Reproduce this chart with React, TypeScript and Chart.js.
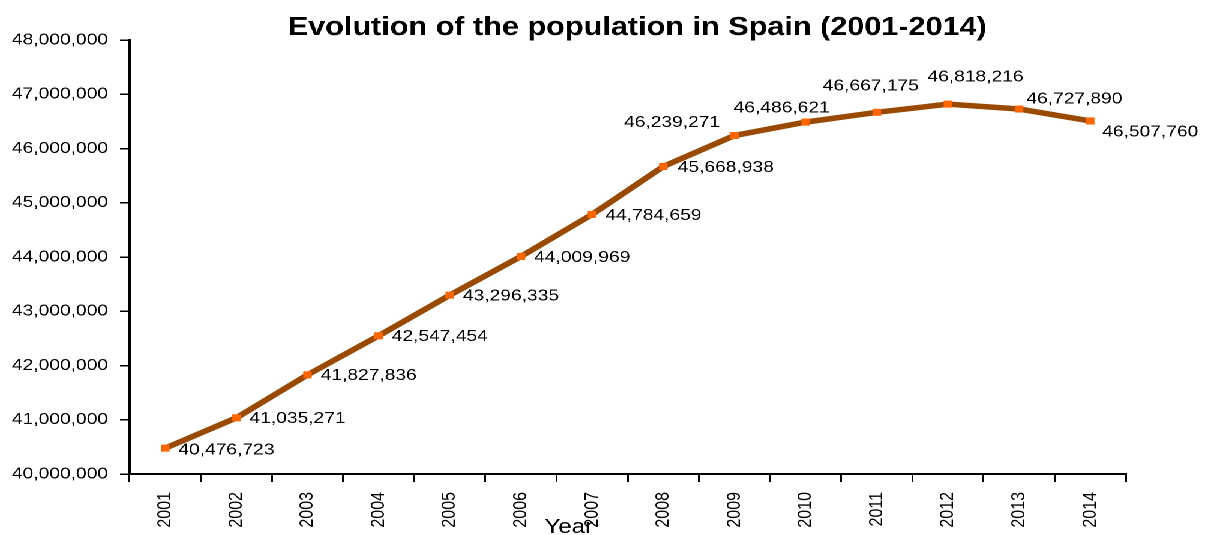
import React, { useEffect, useRef } from "react";
import { Chart, registerables } from "chart.js";

Chart.register(...registerables);

const categories = ["2001", "2002", "2003", "2004", "2005", "2006", "2007", "2008", "2009", "2010", "2011", "2012", "2013", "2014"];
const population = [40476723, 41035271, 41827836, 42547454, 43296335, 44009969, 44784659, 45668938, 46239271, 46486621, 46667175, 46818216, 46727890, 46507760];
const yMin = 40000000;
const yMax = 48000000;
const yStep = 1000000;
const chartTitle = "Evolution of the population in Spain (2001-2014)";
const xTitle = "Year";

// label placement per point: [align, dx, dy] (logical px)
const labelPlacement: [CanvasTextAlign, number, number][] = [
  ["left", 11, 2],
  ["left", 11, 1],
  ["left", 11, 1],
  ["left", 11, 1],
  ["left", 11, 1],
  ["left", 11, 1],
  ["left", 11, 1],
  ["left", 12, 1],
  ["right", -12, -13],
  ["center", -20, -14],
  ["center", -5, -26],
  ["center", 23, -27],
  ["left", 6, -10],
  ["left", 10, 11],
];

const FONT = "'Liberation Sans', Arial, sans-serif";
const LOGICAL_W = 1004;
const H = 535;
const SCALE_X = 1205 / LOGICAL_W;

const fmt = (v: number) => v.toLocaleString("en-US");

const textPlugin = {
  id: "textPlugin",
  afterDatasetsDraw(chart: any) {
    const ctx = chart.ctx as CanvasRenderingContext2D;
    const meta = chart.getDatasetMeta(0);
    ctx.save();
    ctx.fillStyle = "#000";
    ctx.font = `16px ${FONT}`;
    ctx.textBaseline = "middle";
    meta.data.forEach((pt: any, i: number) => {
      const [align, dx, dy] = labelPlacement[i];
      ctx.textAlign = align;
      ctx.fillText(fmt(population[i]), pt.x + dx, pt.y + dy);
    });
    const ca = chart.chartArea;
    const cx = (ca.left + ca.right) / 2;
    ctx.textAlign = "center";
    ctx.textBaseline = "alphabetic";
    ctx.font = `bold 25.5px ${FONT}`;
    ctx.fillText(chartTitle, cx + 8, 35);
    ctx.font = `20px ${FONT}`;
    ctx.fillText(xTitle, cx - 49, 533);
    ctx.restore();
  },
};

export default function App() {
  const ref = useRef<HTMLCanvasElement>(null);
  useEffect(() => {
    if (!ref.current) return;
    const chart = new Chart(ref.current, {
      type: "line",
      data: {
        labels: categories,
        datasets: [
          {
            data: population,
            borderColor: "#9a4a00",
            borderWidth: 5.5,
            pointStyle: "rect",
            pointRadius: 5,
            pointBackgroundColor: "#ff6600",
            pointBorderColor: "#ff6600",
            pointBorderWidth: 0,
            tension: 0,
            clip: false as any,
          },
        ],
      },
      options: {
        animation: false,
        responsive: false,
        devicePixelRatio: 2,
        layout: { padding: { top: 40, right: 66, bottom: 0, left: 0 } },
        plugins: {
          legend: { display: false },
          title: { display: false },
          tooltip: { enabled: false },
        },
        scales: {
          x: {
            type: "category",
            offset: true,
            afterFit: (s: any) => {
              s.height = 61;
            },
            grid: {
              display: true,
              offset: true,
              drawOnChartArea: false,
              drawTicks: true,
              tickLength: 8,
              color: "#000",
              lineWidth: 1.5,
            },
            border: { display: true, color: "#000", width: 2 },
            ticks: {
              color: "#000",
              font: { family: FONT, size: 16 },
              minRotation: 90,
              maxRotation: 90,
              padding: 10,
              autoSkip: false,
            },
          },
          y: {
            min: yMin,
            max: yMax,
            afterFit: (s: any) => {
              s.width = 108;
            },
            grid: {
              display: true,
              drawOnChartArea: false,
              drawTicks: true,
              tickLength: 8,
              color: "#000",
              lineWidth: 1.5,
            },
            border: { display: true, color: "#000", width: 2.5 },
            ticks: {
              stepSize: yStep,
              color: "#000",
              font: { family: FONT, size: 16 },
              padding: 10,
              callback: (v: any) => fmt(Number(v)),
            },
          },
        },
      },
      plugins: [textPlugin],
    });
    return () => chart.destroy();
  }, []);
  return (
    <div
      style={{
        position: "fixed",
        left: 0,
        top: 0,
        width: LOGICAL_W,
        height: H,
        transform: `scaleX(${SCALE_X})`,
        transformOrigin: "0 0",
        background: "#fff",
      }}
    >
      <canvas ref={ref} width={LOGICAL_W} height={H} />
    </div>
  );
}
